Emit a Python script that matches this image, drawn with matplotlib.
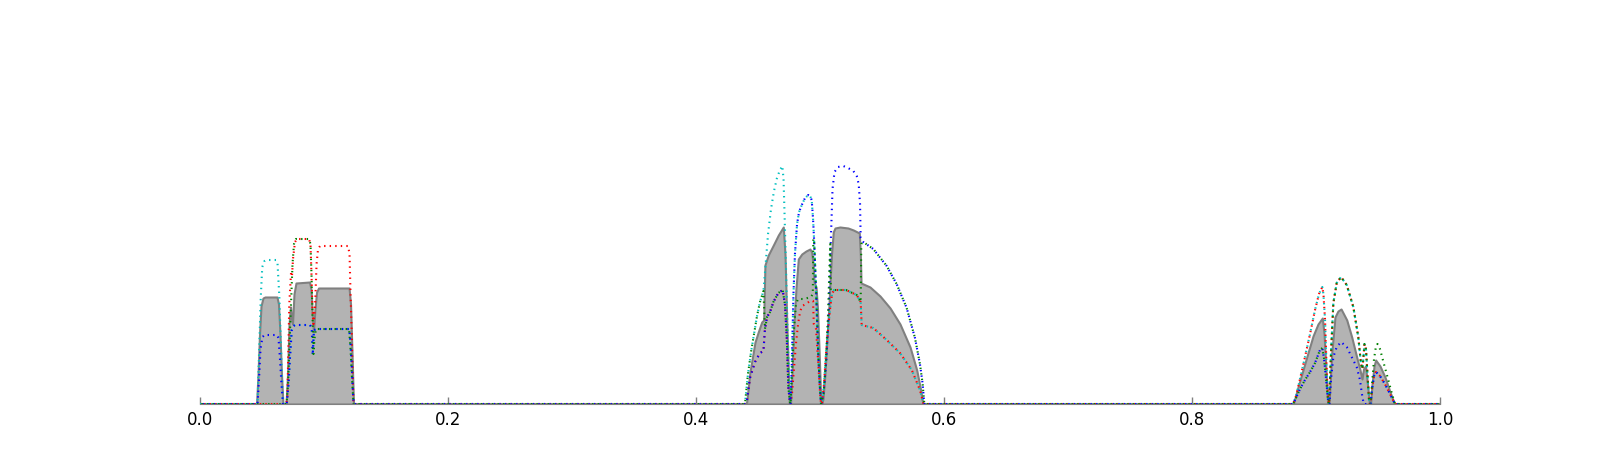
import matplotlib
matplotlib.use("Agg")
import matplotlib.pyplot as plt

# ---- data (x in [0, 1], y = density estimate) ----
gray_x = [0.0, 0.0456, 0.0468, 0.0480, 0.0492, 0.0508, 0.0524, 0.0621, 0.0633, 0.0645, 0.0657, 0.0669,
          0.0694, 0.0706, 0.0718, 0.0730, 0.0738, 0.0746, 0.0758, 0.0774, 0.0883, 0.0895, 0.0907, 0.0915,
          0.0927, 0.0940, 0.0956, 0.1202, 0.1214, 0.1226, 0.1238,
          0.4395, 0.4409, 0.4435, 0.4476, 0.4502, 0.4530, 0.4546, 0.4556, 0.4583, 0.4624, 0.4664, 0.4704,
          0.4718, 0.4732, 0.4753, 0.4762, 0.4774, 0.4790, 0.4806, 0.4825, 0.4853, 0.4887, 0.4919, 0.4933,
          0.4944, 0.4952, 0.4968, 0.4980, 0.4992, 0.5004, 0.5012, 0.5024, 0.5040, 0.5056, 0.5073, 0.5081,
          0.5093, 0.5107, 0.5121, 0.5161, 0.5226, 0.5269, 0.5317, 0.5325, 0.5331, 0.5403, 0.5484, 0.5565,
          0.5645, 0.5726, 0.5780, 0.5812, 0.5828, 0.5835,
          0.8817, 0.8855, 0.8895, 0.8935, 0.8976, 0.9016, 0.9051, 0.9065, 0.9073, 0.9094, 0.9105, 0.9127,
          0.9153, 0.9177, 0.9202, 0.9248, 0.9288, 0.9328, 0.9355, 0.9371, 0.9383, 0.9399, 0.9415, 0.9431,
          0.9440, 0.9452, 0.9468, 0.9481, 0.9516, 0.9556, 0.9597, 0.9621, 0.9637, 1.0]
gray_y = [0, 0, 0.30, 0.70, 0.98, 1.06, 1.07, 1.07, 1.00, 0.70, 0.30, 0,
          0, 0.30, 0.80, 0.97, 0.85, 0.80, 1.10, 1.21, 1.22, 1.15, 0.85, 0.72,
          0.95, 1.12, 1.16, 1.16, 1.00, 0.50, 0,
          0, 0.02, 0.32, 0.62, 0.72, 0.82, 0.84, 1.39, 1.49, 1.59, 1.69, 1.77,
          1.49, 0.82, 0.01, 0, 0.30, 0.80, 1.15, 1.45, 1.50, 1.53, 1.55, 1.52,
          1.40, 1.22, 1.17, 0.95, 0.55, 0.12, 0, 0.05, 0.30, 0.65, 1.00, 1.22,
          1.50, 1.72, 1.76, 1.77, 1.76, 1.74, 1.71, 1.50, 1.21, 1.17, 1.08, 0.96,
          0.80, 0.57, 0.34, 0.14, 0.01, 0,
          0, 0.17, 0.34, 0.51, 0.68, 0.80, 0.86, 0.70, 0.51, 0.01, 0, 0.51,
          0.87, 0.93, 0.95, 0.84, 0.67, 0.47, 0.34, 0.25, 0.35, 0.38, 0.20, 0,
          0, 0.20, 0.38, 0.44, 0.38, 0.27, 0.12, 0.04, 0, 0]

cyan_x = [0.0, 0.0464, 0.0476, 0.0490, 0.0502, 0.0520, 0.0538, 0.0613, 0.0625, 0.0640, 0.0651, 0.0667, 0.0673,
          0.0699, 0.0714, 0.0726, 0.0740, 0.0754, 0.0766, 0.0887, 0.0901, 0.0909, 0.0919, 0.0941, 0.1204,
          0.1214, 0.1223, 0.1236, 0.1242,
          0.4395, 0.4419, 0.4444, 0.4468, 0.4492, 0.4516, 0.4544, 0.4565, 0.4581, 0.4605, 0.4629, 0.4653,
          0.4677, 0.4696, 0.4706, 0.4714, 0.4723, 0.4736, 0.4753, 0.4762,
          0.4770, 0.4778, 0.4786, 0.4798, 0.4815, 0.4831, 0.4853, 0.4879, 0.4906, 0.4923, 0.4933, 0.4944,
          0.4952, 0.4968, 0.4986, 0.5000, 0.5008,
          0.5016, 0.5032, 0.5048, 0.5065, 0.5081, 0.5097, 0.5113, 0.5210, 0.5296, 0.5328, 0.5336, 0.5430,
          0.5538, 0.5645, 0.5740, 0.5806, 0.5833, 0.5839,
          0.8815, 0.8839, 0.8871, 0.8911, 0.8952, 0.8992, 0.9024, 0.9051, 0.9060, 0.9073, 0.9086, 0.9097, 0.9105,
          0.9121, 0.9140, 0.9167, 0.9202, 0.9248, 0.9301, 0.9341, 0.9363, 0.9375, 0.9391, 0.9403, 0.9415,
          0.9427, 0.9435,
          0.9440, 0.9452, 0.9468, 0.9484, 0.9516, 0.9556, 0.9597, 0.9629, 0.9637, 1.0]
cyan_y = [0, 0, 0.50, 1.07, 1.37, 1.43, 1.44, 1.44, 1.41, 1.07, 0.64, 0.07, 0,
          0, 0.20, 0.47, 0.74, 0.78, 0.79, 0.79, 0.76, 0.49, 0.74, 0.75, 0.75,
          0.60, 0.41, 0.05, 0,
          0, 0.30, 0.52, 0.70, 0.88, 1.02, 1.13, 1.45, 1.70, 1.95, 2.13, 2.26,
          2.34, 2.38, 2.25, 1.90, 1.50, 0.85, 0.16, 0,
          0.30, 0.70, 1.10, 1.50, 1.80, 1.92, 1.99, 2.06, 2.09, 2.07, 2.04, 1.85,
          1.65, 1.15, 0.49, 0.15, 0,
          0, 0.20, 0.50, 0.75, 0.95, 1.10, 1.14, 1.14, 1.09, 1.02, 0.79, 0.76,
          0.64, 0.51, 0.34, 0.14, 0.01, 0,
          0, 0.08, 0.25, 0.47, 0.70, 0.94, 1.10, 1.17, 1.10, 0.84, 0.34, 0.05, 0,
          0.51, 1.01, 1.21, 1.27, 1.19, 0.97, 0.67, 0.40, 0.35, 0.60, 0.55, 0.30,
          0.05, 0,
          0, 0.15, 0.28, 0.32, 0.28, 0.20, 0.10, 0.02, 0, 0]

red_x = [0.0, 0.0690, 0.0704, 0.0712, 0.0720, 0.0734, 0.0742, 0.0750, 0.0766, 0.0782, 0.0879, 0.0891,
         0.0899, 0.0907, 0.0915, 0.0927, 0.0940, 0.0952, 0.0968, 0.1194, 0.1206, 0.1214, 0.1223, 0.1230, 0.1238,
         0.4395, 0.4409, 0.4435, 0.4476, 0.4516, 0.4544, 0.4556, 0.4573, 0.4597, 0.4624, 0.4664, 0.4699,
         0.4718, 0.4732, 0.4745, 0.4758, 0.4762,
         0.4774, 0.4790, 0.4806, 0.4823, 0.4839, 0.4855, 0.4887, 0.4919, 0.4944, 0.4950, 0.4968, 0.4984,
         0.5000, 0.5008,
         0.5016, 0.5032, 0.5048, 0.5065, 0.5081, 0.5097, 0.5113, 0.5210, 0.5296, 0.5328, 0.5336, 0.5430,
         0.5538, 0.5645, 0.5740, 0.5806, 0.5833, 0.5839,
         0.8815, 0.8839, 0.8871, 0.8911, 0.8952, 0.8992, 0.9024, 0.9051, 0.9060, 0.9073, 0.9086, 0.9097, 0.9105,
         0.9121, 0.9140, 0.9167, 0.9202, 0.9248, 0.9301, 0.9341, 0.9363, 0.9375, 0.9391, 0.9403, 0.9415,
         0.9427, 0.9435,
         0.9440, 0.9452, 0.9468, 0.9484, 0.9516, 0.9556, 0.9597, 0.9629, 0.9637, 1.0]
red_y = [0, 0, 0.04, 0.50, 1.00, 1.31, 1.28, 1.45, 1.62, 1.65, 1.65, 1.60,
         1.30, 0.95, 0.80, 0.95, 1.40, 1.55, 1.58, 1.58, 1.50, 1.10, 0.74, 0.35, 0,
         0, 0.02, 0.26, 0.42, 0.51, 0.53, 0.75, 0.87, 0.92, 1.02, 1.11, 1.14,
         0.99, 0.66, 0.16, 0.01, 0,
         0.10, 0.35, 0.60, 0.80, 0.92, 0.98, 1.00, 1.03, 1.03, 0.80, 0.75, 0.45,
         0.12, 0,
         0, 0.20, 0.50, 0.75, 0.95, 1.10, 1.14, 1.14, 1.09, 1.02, 0.79, 0.76,
         0.64, 0.51, 0.34, 0.14, 0.01, 0,
         0, 0.08, 0.25, 0.47, 0.70, 0.94, 1.10, 1.17, 1.10, 0.84, 0.34, 0.05, 0,
         0.51, 1.01, 1.21, 1.27, 1.19, 0.97, 0.67, 0.40, 0.35, 0.60, 0.55, 0.30,
         0.05, 0,
         0, 0.15, 0.28, 0.32, 0.28, 0.20, 0.10, 0.02, 0, 0]

blue_x = [0.0, 0.0464, 0.0476, 0.0488, 0.0504, 0.0520, 0.0621, 0.0633, 0.0645, 0.0657, 0.0669,
          0.0699, 0.0714, 0.0726, 0.0740, 0.0754, 0.0766, 0.0887, 0.0901, 0.0909, 0.0919, 0.0941, 0.1204,
          0.1214, 0.1223, 0.1236, 0.1242,
          0.4395, 0.4409, 0.4435, 0.4476, 0.4516, 0.4544, 0.4556, 0.4573, 0.4597, 0.4624, 0.4664, 0.4699,
          0.4718, 0.4732, 0.4745, 0.4758, 0.4762,
          0.4770, 0.4778, 0.4786, 0.4798, 0.4815, 0.4831, 0.4853, 0.4879, 0.4906, 0.4923, 0.4933, 0.4944,
          0.4952, 0.4968, 0.4986, 0.5000, 0.5008,
          0.5012, 0.5032, 0.5052, 0.5069, 0.5081, 0.5093, 0.5101, 0.5117, 0.5145, 0.5188, 0.5226, 0.5269,
          0.5296, 0.5312, 0.5323, 0.5328, 0.5349, 0.5430, 0.5538, 0.5618, 0.5699, 0.5766, 0.5806, 0.5828,
          0.5839, 0.5843,
          0.8815, 0.8839, 0.8871, 0.8911, 0.8952, 0.8992, 0.9032, 0.9051, 0.9065, 0.9081, 0.9097, 0.9105,
          0.9109, 0.9121, 0.9140, 0.9167, 0.9202, 0.9248, 0.9288, 0.9328, 0.9355, 0.9369, 0.9382, 0.9387,
          0.9440, 0.9452, 0.9468, 0.9484, 0.9516, 0.9556, 0.9597, 0.9629, 0.9637, 1.0]
blue_y = [0, 0, 0.25, 0.55, 0.67, 0.69, 0.69, 0.66, 0.45, 0.20, 0,
          0, 0.20, 0.47, 0.74, 0.78, 0.79, 0.79, 0.76, 0.49, 0.74, 0.75, 0.75,
          0.60, 0.41, 0.05, 0,
          0, 0.02, 0.26, 0.42, 0.51, 0.53, 0.75, 0.87, 0.92, 1.02, 1.11, 1.14,
          0.99, 0.66, 0.16, 0.01, 0,
          0.30, 0.70, 1.10, 1.50, 1.80, 1.92, 1.99, 2.06, 2.09, 2.07, 2.04, 1.85,
          1.65, 1.15, 0.49, 0.15, 0,
          0, 0.15, 0.45, 0.90, 1.40, 1.85, 2.15, 2.32, 2.37, 2.38, 2.36, 2.33,
          2.28, 2.20, 2.00, 1.66, 1.62, 1.55, 1.38, 1.20, 0.96, 0.66, 0.40, 0.20,
          0.03, 0,
          0, 0.06, 0.15, 0.24, 0.32, 0.41, 0.54, 0.56, 0.45, 0.25, 0.04, 0,
          0, 0.25, 0.47, 0.57, 0.62, 0.57, 0.47, 0.37, 0.24, 0.11, 0.02, 0,
          0, 0.15, 0.28, 0.32, 0.28, 0.20, 0.10, 0.02, 0, 0]

green_x = [0.0, 0.0698, 0.0710, 0.0722, 0.0734, 0.0746, 0.0758, 0.0774, 0.0879, 0.0891, 0.0899, 0.0907,
           0.0915, 0.0923, 0.0935, 0.1202, 0.1214, 0.1226, 0.1238,
           0.4395, 0.4419, 0.4444, 0.4468, 0.4492, 0.4516, 0.4544, 0.4556, 0.4573, 0.4597, 0.4624, 0.4664,
           0.4699, 0.4718, 0.4732, 0.4745, 0.4758, 0.4762,
           0.4774, 0.4790, 0.4806, 0.4823, 0.4871, 0.4927, 0.4942, 0.4946, 0.4952, 0.4968, 0.4986, 0.5000, 0.5008,
           0.5028, 0.5048, 0.5065, 0.5077, 0.5083, 0.5087, 0.5210, 0.5296, 0.5328, 0.5333, 0.5349, 0.5430,
           0.5538, 0.5618, 0.5699, 0.5766, 0.5806, 0.5828, 0.5839, 0.5843,
           0.8815, 0.8839, 0.8871, 0.8911, 0.8952, 0.8992, 0.9032, 0.9051, 0.9065, 0.9081, 0.9097, 0.9105,
           0.9121, 0.9140, 0.9167, 0.9202, 0.9248, 0.9301, 0.9341, 0.9363, 0.9375, 0.9391, 0.9403, 0.9415,
           0.9427, 0.9435,
           0.9440, 0.9452, 0.9468, 0.9484, 0.9496, 0.9516, 0.9548, 0.9581, 0.9613, 0.9637, 1.0]
green_y = [0, 0, 0.20, 0.60, 1.00, 1.40, 1.60, 1.65, 1.65, 1.60, 1.30, 0.90,
           0.50, 0.65, 0.75, 0.75, 0.55, 0.25, 0,
           0, 0.30, 0.52, 0.70, 0.88, 1.02, 1.13, 0.75, 0.87, 0.92, 1.02, 1.11,
           1.14, 0.99, 0.66, 0.16, 0.01, 0,
           0.30, 0.75, 1.00, 1.05, 1.05, 1.07, 1.10, 1.65, 1.65, 1.15, 0.49, 0.15, 0,
           0.10, 0.45, 0.90, 1.40, 1.60, 1.14, 1.14, 1.09, 1.02, 1.60, 1.62, 1.55,
           1.38, 1.20, 0.96, 0.66, 0.40, 0.20, 0.03, 0,
           0, 0.06, 0.15, 0.24, 0.32, 0.41, 0.54, 0.56, 0.45, 0.25, 0.04, 0,
           0.51, 1.01, 1.21, 1.27, 1.19, 0.97, 0.67, 0.40, 0.35, 0.60, 0.55, 0.30,
           0.05, 0,
           0, 0.20, 0.45, 0.58, 0.60, 0.55, 0.40, 0.25, 0.10, 0, 0]

tick_values = [0.0, 0.2, 0.4, 0.6, 0.8, 1.0]
tick_labels = ["0.0", "0.2", "0.4", "0.6", "0.8", "1.0"]

fig = plt.figure(figsize=(16, 4.5), dpi=100)
ax = fig.add_axes([0.125, 0.1022, 0.775, 0.7778])

ax.fill_between(gray_x, gray_y, 0, facecolor="#b3b3b3", edgecolor="#808080", linewidth=1.5)

# dotted pattern: 1pt dot, 3pt gap (pattern given in units of linewidth)
lw = 1.5
series = [(cyan_x, cyan_y, "c", 0.0), (red_x, red_y, "r", 0.67),
          (blue_x, blue_y, "b", 1.33), (green_x, green_y, "g", 2.0)]
for xs, ys, col, off in series:
    ax.plot(xs, ys, color=col, lw=lw, linestyle=(off, (0.67, 2.0)))

ax.set_xlim(0, 1)
ax.set_ylim(0, 3.5)
for s in ["top", "right", "left"]:
    ax.spines[s].set_visible(False)
ax.spines["bottom"].set_color("#808080")
ax.set_yticks([])
ax.set_xticks(tick_values)
ax.set_xticklabels(tick_labels)
ax.tick_params(axis="x", direction="in", length=5, width=1, color="#808080", labelsize=12, pad=5)

fig.savefig("out.png", dpi=100)
